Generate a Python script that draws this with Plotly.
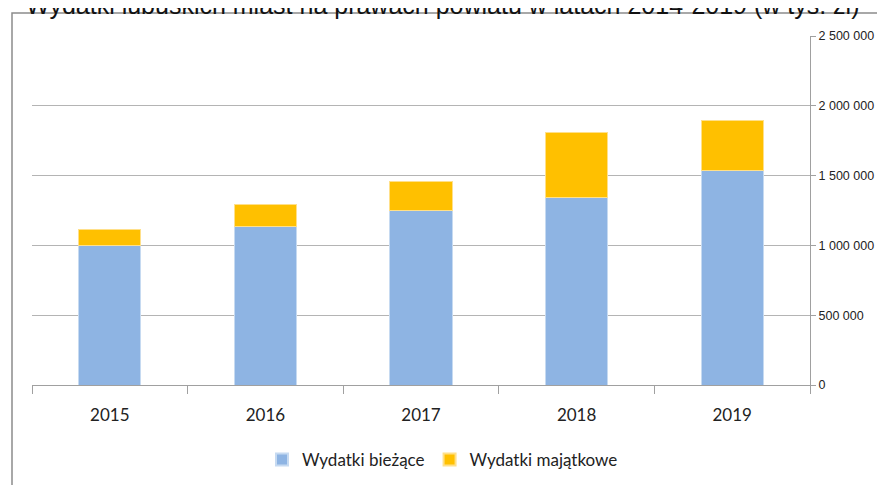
import plotly.graph_objects as go

years = ["2015", "2016", "2017", "2018", "2019"]
biezace = [1002000, 1135000, 1247000, 1341000, 1533000]
majatkowe_total = [1114000, 1292000, 1457000, 1811000, 1898000]
majatkowe = [t - b for t, b in zip(majatkowe_total, biezace)]
y_ticks = [0, 500000, 1000000, 1500000, 2000000, 2500000]

title_text = "Wydatki lubuskich miast na prawach powiatu w latach 2014-2019 (w tys. zł)"

# page offset (default body margin) compensation
OFF = 8
W, H = 885 - OFF, 485 - OFF
L, R, T, B = 32 - OFF, W - (810 - OFF), 36 - OFF, H - (385 - OFF)
pw = W - L - R
ph = H - T - B

def px(x):  # x in screenshot pixels
    return (x - OFF - L) / pw

def py(y):  # y in screenshot pixels
    return (H - B - (y - OFF)) / ph

fig = go.Figure()
fig.add_trace(go.Bar(x=years, y=biezace, name="Wydatki bieżące",
                     marker=dict(color="#8EB4E3", line=dict(color="#C6DAF1", width=1))))
fig.add_trace(go.Bar(x=years, y=majatkowe, name="Wydatki majątkowe",
                     marker=dict(color="#FFC000", line=dict(color="#FFE08A", width=1))))

fig.update_layout(
    barmode="stack",
    bargap=0.6,
    width=W, height=H,
    margin=dict(l=L, r=R, t=T, b=B, pad=0, autoexpand=False),
    paper_bgcolor="white", plot_bgcolor="white",
    separators=". ",
    showlegend=True,
    legend=dict(orientation="h", x=px(262), xanchor="left", y=py(460), yanchor="middle",
                font=dict(family="Lato, Carlito, sans-serif", size=17, color="#222"),
                itemsizing="constant", itemwidth=30, traceorder="normal"),
    xaxis=dict(type="category", showline=True, linecolor="#A0A0A0", linewidth=1,
               ticks="outside", tickson="boundaries", ticklen=8, tickcolor="#A0A0A0",
               ticklabelstandoff=15,
               tickfont=dict(family="Lato, Carlito, sans-serif", size=17, color="#222"),
               showgrid=False),
    yaxis=dict(side="right", range=[0, 2500000], tickvals=y_ticks, tickformat=",d",
               showline=True, linecolor="#A0A0A0", linewidth=1,
               ticks="outside", ticklen=5, tickcolor="#A0A0A0",
               showgrid=True, gridcolor="#B4B4B4", gridwidth=1, zeroline=False,
               tickfont=dict(family="Liberation Sans, Arial, sans-serif",
                             size=12.5, color="#222")),
    annotations=[dict(text=title_text, xref="paper", yref="paper", x=px(442), y=py(21),
                      xanchor="center", yanchor="bottom", showarrow=False,
                      font=dict(family="Liberation Sans, Arial, sans-serif", size=25, color="#111"))],
    shapes=[dict(type="rect", xref="paper", yref="paper", x0=px(12), x1=px(900),
                 y0=py(500), y1=py(13), line=dict(color="#8C8C8C", width=1.5),
                 fillcolor="rgba(0,0,0,0)", layer="below")],
)

fig.write_html("out.html")
